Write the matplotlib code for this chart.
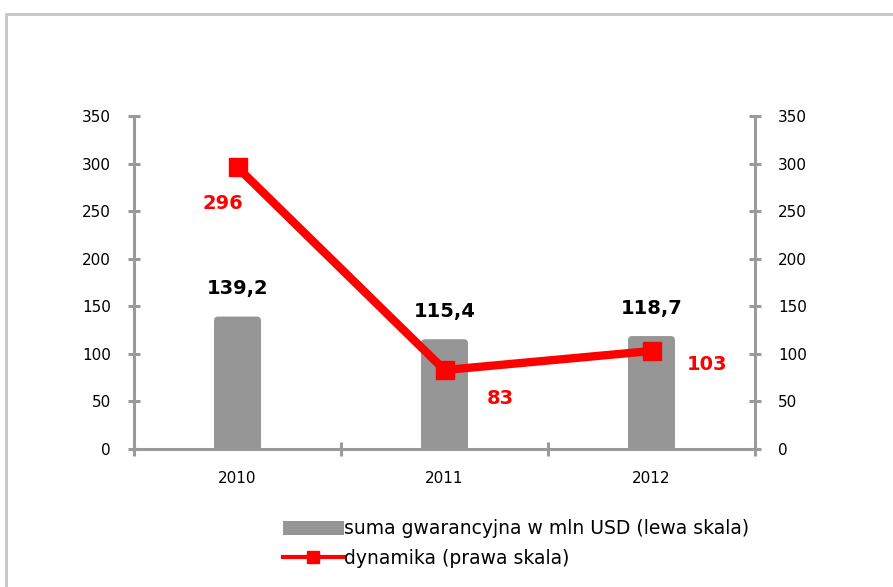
import matplotlib
matplotlib.use("Agg")
import matplotlib.pyplot as plt
from matplotlib.patches import FancyBboxPatch, Rectangle
from matplotlib.lines import Line2D
from matplotlib.patches import Patch

years = ["2010", "2011", "2012"]
suma = [139.2, 115.4, 118.7]          # lewa skala
dynamika = [296, 83, 103]             # prawa skala
suma_labels = ["139,2", "115,4", "118,7"]
dyn_labels = ["296", "83", "103"]
yticks = [0, 50, 100, 150, 200, 250, 300, 350]

GREY = "#969696"
AXIS = "#9a9a9a"
RED = "#ff0000"

plt.rcParams["font.family"] = ["DejaVu Sans"]

fig = plt.figure(figsize=(8.93, 5.87), dpi=100)
fig.patches.append(Rectangle((6 / 893, -0.1), 1.2, (587 - 14) / 587 + 0.1,
                             transform=fig.transFigure, fill=False,
                             edgecolor="#c6c6c6", linewidth=2))

ax = fig.add_axes([134 / 893, (587 - 449) / 587, 621 / 893, 333 / 587])
ax2 = ax.twinx()

x = list(range(len(years)))
bars = ax.bar(x, suma, width=0.227, color=GREY)
# zaokrąglone rogi słupków
for b in bars:
    b.set_visible(False)
    fb = FancyBboxPatch((b.get_x(), -2), b.get_width(), b.get_height() + 2,
                        boxstyle="round,pad=0,rounding_size=0.02",
                        mutation_aspect=220, facecolor=GREY, edgecolor="none",
                        zorder=2, clip_on=False)
    ax.add_patch(fb)

for xi, v, lab in zip(x, suma, suma_labels):
    ax.text(xi, v + 29, lab, ha="center", va="center", fontsize=14,
            fontweight="bold", color="black")

ax2.plot(x, dynamika, color=RED, linewidth=6, marker="s", markersize=13,
         solid_joinstyle="miter")
offsets = [(-0.07, -38), (0.27, -30), (0.27, -14)]
for xi, v, lab, (dx, dy) in zip(x, dynamika, dyn_labels, offsets):
    ax2.text(xi + dx, v + dy, lab, ha="center", va="center", fontsize=14,
             fontweight="bold", color=RED)

for a in (ax, ax2):
    a.set_ylim(0, 350)
    a.set_yticks(yticks)
    a.set_xlim(-0.5, 2.5)
    a.spines["top"].set_visible(False)
    for s in ("left", "right", "bottom"):
        a.spines[s].set_color(AXIS)
        a.spines[s].set_linewidth(2.2)
    a.patch.set_visible(False)

ax.tick_params(axis="y", direction="inout", length=9, width=2.2,
               color=AXIS, labelsize=11, pad=12)
ax2.tick_params(axis="y", direction="inout", length=9, width=2.2,
                color=AXIS, labelsize=11, pad=12)

ax.spines["right"].set_visible(False)
ax2.spines["left"].set_visible(False)
ax2.spines["bottom"].set_visible(False)

ax.set_xticks(x)
ax.set_xticklabels(years)
ax.set_xticks([-0.5, 0.5, 1.5, 2.5], minor=True)
ax.tick_params(axis="x", which="major", length=0, labelsize=11, pad=16)
ax.tick_params(axis="x", which="minor", direction="inout", length=10,
               width=2.2, color=AXIS)

handles = [Patch(facecolor=GREY, edgecolor="none"),
           Line2D([0], [0], color=RED, linewidth=3, marker="s", markersize=9)]
fig.legend(handles, ["suma gwarancyjna w mln USD (lewa skala)",
                     "dynamika (prawa skala)"],
           loc="upper left", bbox_to_anchor=(275 / 893, 1 - 512 / 587),
           frameon=False, fontsize=13.5, handlelength=3.3, handleheight=0.8,
           handletextpad=0.0, labelspacing=0.55, borderaxespad=0)

fig.savefig("out.png", dpi=100)
